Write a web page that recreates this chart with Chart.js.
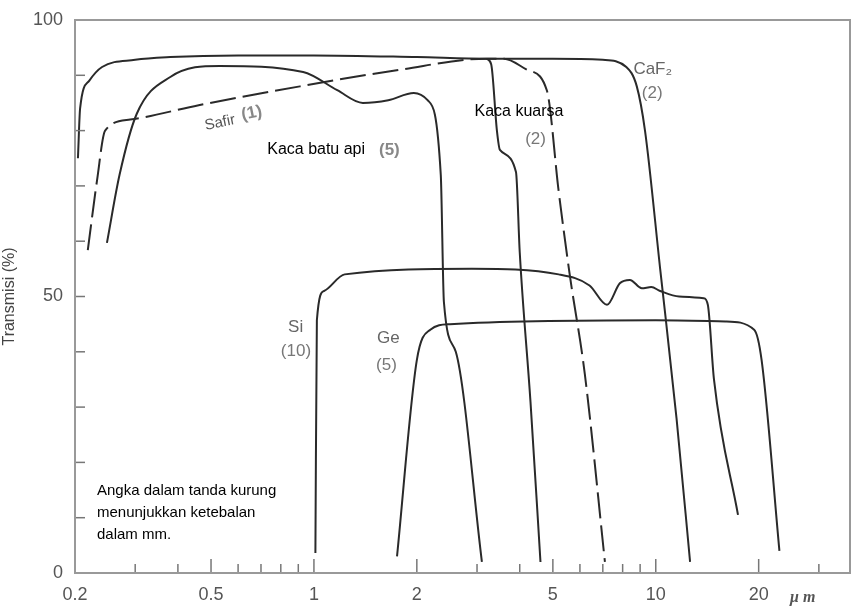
<!DOCTYPE html>
<html>
<head>
<meta charset="utf-8">
<script src="https://cdn.jsdelivr.net/npm/chart.js@4/dist/chart.umd.min.js"></script>
<style>
  body { margin: 0; background: #fff; }
  #wrap { width: 867px; height: 614px; }
</style>
</head>
<body>
<div id="wrap"><canvas id="grafico"></canvas></div>
<script>
// wavelength (µm) / transmission (%)
const caf2X = [0.204, 0.207, 0.22, 0.24, 0.3, 0.38, 0.6, 1, 2, 3.2, 5, 7, 8.2, 8.8, 9.3, 10.3, 11.5, 12.6];
const caf2Y = [75, 84, 89, 91.5, 92.8, 93.3, 93.6, 93.6, 93.3, 93, 93, 92.8, 91.5, 88, 80, 55, 28, 2];

const quartzX = [3.2, 3.3, 3.43, 3.5, 3.9, 4.0, 4.3, 4.6];
const quartzY = [93, 92, 80, 76.5, 72.5, 58, 31, 2];

const sapphireX = [0.218, 0.232, 0.245, 0.29, 0.46, 0.91, 1.78, 3.2, 3.6, 4.2, 4.8, 5.2, 5.6, 6.2, 7.1];
const sapphireY = [58.4, 71, 80, 82, 84.6, 88, 91, 93, 93, 91, 87.3, 69, 54, 36, 2];

const flintX = [0.248, 0.27, 0.303, 0.38, 0.53, 0.93, 1.17, 1.39, 1.65, 1.96, 2.15, 2.35, 2.4, 2.6, 3.1];
const flintY = [59.7, 72, 83, 89.7, 91.7, 90.6, 87.3, 85, 85.5, 86.8, 85.5, 72, 49, 40, 2];

const siX = [1.01, 1.02, 1.07, 1.23, 2.9, 5.2, 6.4, 7.2, 7.85, 8.4, 9.1, 9.7, 10.3, 11.7, 13.8, 14.2, 14.8, 17.4];
const siY = [3.6, 45.7, 51, 54, 55, 54, 52, 48.5, 52.4, 53, 51.5, 51.7, 51, 50, 49.7, 48.5, 35, 10.5];

const geX = [1.75, 2.0, 2.19, 2.5, 10, 16, 19.4, 20.4, 23];
const geY = [3, 38.5, 44, 45, 45.7, 45.5, 44, 38.5, 4];

const xTickLabels = [0.2, 0.5, 1, 2, 5, 10, 20];
const xMinorTicks = [0.3, 0.4, 0.6, 0.7, 0.8, 0.9, 3, 4, 6, 7, 8, 9, 30];
const yTicks = [0, 10, 20, 30, 40, 50, 60, 70, 80, 90, 100];
const yTickLabels = [0, 50, 100];

function pts(xs, ys) {
    return xs.map((x, i) => ({ x, y: ys[i] }));
}

function serie(label, xs, ys, dash) {
    return {
        label,
        data: pts(xs, ys),
        borderColor: '#2a2a2a',
        borderWidth: 2,
        borderDash: dash || [],
        pointRadius: 0,
        tension: 0.35,
        cubicInterpolationMode: 'monotone',
        fill: false
    };
}

// inward tick marks, box and the text labels on the plot
const decoracao = {
    id: 'decoracao',
    afterDraw(chart) {
        const ctx = chart.ctx;
        const a = chart.chartArea;
        const sx = chart.scales.x, sy = chart.scales.y;
        ctx.save();
        ctx.strokeStyle = '#777';
        ctx.lineWidth = 1.5;
        yTicks.forEach(v => {
            const y = sy.getPixelForValue(v);
            ctx.beginPath(); ctx.moveTo(a.left, y); ctx.lineTo(a.left + 10, y); ctx.stroke();
        });
        xTickLabels.concat(xMinorTicks).forEach(v => {
            const x = sx.getPixelForValue(v);
            const len = xTickLabels.includes(v) ? 14 : 9;
            ctx.beginPath(); ctx.moveTo(x, a.bottom); ctx.lineTo(x, a.bottom - len); ctx.stroke();
        });
        ctx.strokeStyle = '#999';
        ctx.lineWidth = 2;
        ctx.strokeRect(a.left, a.top, a.right - a.left, a.bottom - a.top);

        const txt = (s, v, t, cor, font) => {
            ctx.fillStyle = cor;
            ctx.font = font;
            ctx.fillText(s, sx.getPixelForValue(v), sy.getPixelForValue(t));
        };
        const preto = '16px "Liberation Sans", Arial, sans-serif';
        const cinza = '17px "Liberation Sans", Arial, sans-serif';
        const negrito = 'bold 17px "Liberation Sans", Arial, sans-serif';
        ctx.textBaseline = 'middle';

        ctx.save();
        ctx.translate(sx.getPixelForValue(0.54), sy.getPixelForValue(81.5));
        ctx.rotate(-0.2);
        ctx.fillStyle = '#555';
        ctx.font = '15px "Liberation Sans", Arial, sans-serif';
        ctx.fillText('Safir', -18, 0);
        ctx.font = negrito;
        ctx.fillStyle = '#888';
        ctx.fillText('(1)', 20, -3);
        ctx.restore();

        txt('Kaca batu api', 0.73, 76.5, '#000', preto);
        txt('(5)', 1.55, 76.5, '#888', negrito);
        txt('Kaca kuarsa', 2.95, 83.5, '#000', preto);
        txt('(2)', 4.15, 78.5, '#777', cinza);
        txt('CaF\u2082', 8.6, 91, '#666', cinza);
        txt('(2)', 9.1, 86.8, '#777', cinza);
        txt('Si', 0.84, 44.5, '#666', cinza);
        txt('(10)', 0.8, 40, '#777', cinza);
        txt('Ge', 1.53, 42.5, '#666', cinza);
        txt('(5)', 1.52, 37.5, '#777', cinza);

        ctx.fillStyle = '#000';
        ctx.font = '15px "Liberation Sans", Arial, sans-serif';
        ctx.fillText('Angka dalam tanda kurung', 97, 491);
        ctx.fillText('menunjukkan ketebalan', 97, 513);
        ctx.fillText('dalam mm.', 97, 535);
        ctx.fillStyle = '#555';
        ctx.font = 'italic bold 16px "Liberation Serif", serif';
        ctx.fillText('\u03bc m', 790, 598);
        ctx.restore();
    }
};

new Chart(document.getElementById('grafico'), {
    type: 'line',
    data: {
        datasets: [
            serie('CaF2', caf2X, caf2Y),
            serie('Kaca kuarsa', quartzX, quartzY),
            serie('Safir', sapphireX, sapphireY, [26, 7]),
            serie('Kaca batu api', flintX, flintY),
            serie('Si', siX, siY),
            serie('Ge', geX, geY)
        ]
    },
    options: {
        responsive: true,
        maintainAspectRatio: false,
        animation: false,
        layout: { padding: { top: 20, right: 17, left: 0, bottom: 0 } },
        plugins: { legend: { display: false }, tooltip: { enabled: false } },
        scales: {
            x: {
                type: 'logarithmic',
                min: 0.2,
                max: 37,
                afterFit: s => { s.height = 41; },
                afterBuildTicks: s => { s.ticks = xTickLabels.map(v => ({ value: v })); },
                grid: { display: false },
                border: { display: false },
                ticks: {
                    autoSkip: false,
                    maxRotation: 0,
                    color: '#555',
                    font: { size: 18, family: '"Liberation Sans", Arial, sans-serif' },
                    callback: v => String(v)
                }
            },
            y: {
                min: 0,
                max: 100,
                afterFit: s => { s.width = 75; },
                afterBuildTicks: s => { s.ticks = yTickLabels.map(v => ({ value: v })); },
                grid: { display: false },
                border: { display: false },
                title: {
                    display: true,
                    text: 'Transmisi (%)',
                    color: '#444',
                    padding: { top: 0, bottom: 0 },
                    font: { size: 16, family: '"Liberation Sans", Arial, sans-serif' }
                },
                ticks: {
                    color: '#555',
                    padding: 4,
                    font: { size: 18, family: '"Liberation Sans", Arial, sans-serif' }
                }
            }
        }
    },
    plugins: [decoracao]
});
</script>
</body>
</html>
